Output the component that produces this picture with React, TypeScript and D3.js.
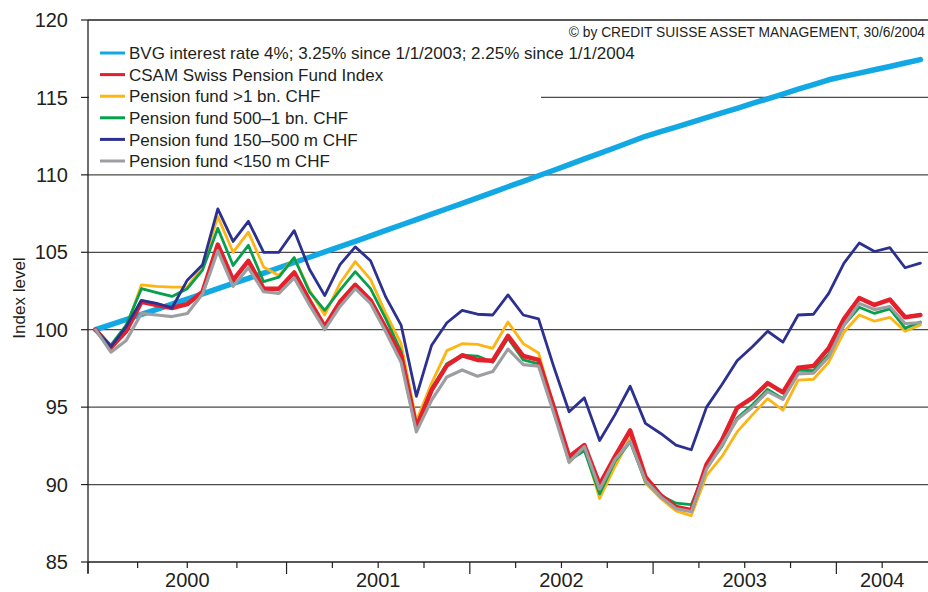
import React from "react";
import * as d3 from "d3";

// Monthly categories: Dec 1999 .. Jun 2004 (55 months)
const months: Date[] = d3.timeMonths(new Date(1999, 11, 1), new Date(2004, 6, 1));

const yearLabels = ["2000", "2001", "2002", "2003", "2004"];
const yTicks = [85, 90, 95, 100, 105, 110, 115, 120];

const bvg = [
  100.0, 100.33, 100.66, 100.99, 101.32, 101.65, 101.98, 102.31, 102.65, 102.99, 103.32, 103.66, 104.0,
  104.34, 104.68, 105.03, 105.37, 105.71, 106.06, 106.41, 106.76, 107.11, 107.46, 107.81, 108.16,
  108.51, 108.87, 109.23, 109.58, 109.94, 110.3, 110.66, 111.03, 111.39, 111.75, 112.12, 112.49,
  112.79, 113.09, 113.39, 113.69, 114.0, 114.3, 114.61, 114.91, 115.22, 115.53, 115.83, 116.14,
  116.36, 116.57, 116.79, 117.0, 117.22, 117.44,
];
const csam = [
  100.0, 98.85, 99.9, 101.8, 101.6, 101.4, 101.65, 102.45, 105.5, 103.2, 104.45, 102.65, 102.65,
  103.7, 101.9, 100.2, 101.8, 102.9, 101.9, 100.1, 98.35, 93.7, 96.1, 97.7, 98.35,
  98.05, 98.0, 99.6, 98.3, 98.05, 95.0, 91.8, 92.55, 90.0, 91.8, 93.5, 90.5,
  89.3, 88.55, 88.35, 91.3, 92.85, 94.95, 95.6, 96.55, 95.95, 97.55, 97.65, 98.8,
  100.7, 102.05, 101.6, 101.95, 100.8, 100.95,
];
const pfLarge = [
  100.0, 98.7, 100.1, 102.9, 102.8, 102.75, 102.75, 104.1, 107.3, 105.0, 106.3, 104.05, 103.5,
  104.65, 102.55, 100.95, 103.0, 104.4, 103.25, 101.05, 99.1, 94.1, 96.55, 98.65, 99.1,
  99.05, 98.8, 100.5, 99.1, 98.5, 95.0, 91.4, 92.45, 89.1, 91.15, 93.0, 90.1,
  89.1, 88.3, 88.0, 90.6, 91.8, 93.4, 94.5, 95.55, 94.8, 96.75, 96.8, 97.9,
  99.85, 100.95, 100.55, 100.8, 99.9, 100.3,
];
const pf500 = [
  100.0, 99.0, 100.3, 102.65, 102.4, 102.15, 102.65, 103.85, 106.55, 104.15, 105.45, 103.1, 103.4,
  104.65, 102.45, 101.25, 102.55, 103.75, 102.65, 100.7, 98.6, 93.8, 96.2, 97.8, 98.35,
  98.3, 97.9, 99.45, 98.05, 97.8, 94.8, 91.55, 92.2, 89.4, 91.5, 92.75, 90.2,
  89.3, 88.8, 88.7, 91.1, 92.45, 94.3, 95.15, 96.15, 95.55, 97.4, 97.35, 98.4,
  100.3, 101.45, 101.05, 101.35, 100.1, 100.5,
];
const pf150 = [
  100.0, 98.9, 100.2, 101.9, 101.7, 101.4, 103.2, 104.2, 107.8, 105.7, 107.0, 105.0, 105.0,
  106.4, 103.9, 102.2, 104.2, 105.35, 104.45, 102.1, 100.3, 95.7, 99.0, 100.45, 101.25,
  101.0, 100.95, 102.25, 100.95, 100.7, 97.6, 94.7, 95.6, 92.85, 94.5, 96.35, 93.95,
  93.3, 92.55, 92.25, 95.0, 96.45, 98.0, 98.9, 99.9, 99.2, 100.95, 101.0, 102.35,
  104.3, 105.6, 105.05, 105.3, 104.0, 104.3,
];
const pfSmall = [
  100.0, 98.55, 99.3, 101.05, 100.95, 100.85, 101.05, 102.3, 105.1, 102.8, 104.0, 102.45, 102.35,
  103.35, 101.6, 100.0, 101.5, 102.65, 101.7, 99.85, 97.9, 93.4, 95.45, 96.95, 97.4,
  97.0, 97.3, 98.75, 97.75, 97.65, 94.6, 91.45, 92.45, 89.7, 91.6, 92.8, 90.25,
  89.2, 88.45, 88.25, 91.0, 92.55, 94.2, 95.0, 96.0, 95.5, 97.15, 97.2, 98.25,
  100.3, 101.7, 101.3, 101.5, 100.4, 100.45,
];

const seriesNames = [
  "BVG interest rate 4%; 3.25% since 1/1/2003; 2.25% since 1/1/2004",
  "CSAM Swiss Pension Fund Index",
  "Pension fund >1 bn. CHF",
  "Pension fund 500–1 bn. CHF",
  "Pension fund 150–500 m CHF",
  "Pension fund <150 m CHF",
];
const seriesValues = [bvg, csam, pfLarge, pf500, pf150, pfSmall];
const seriesColors = ["#12a8e3", "#e3202b", "#fdb515", "#06a04c", "#2c3190", "#9c9ea1"];
const seriesWidths = [5.5, 4.5, 2.8, 2.8, 2.8, 3.2];
// drawing order (bottom -> top)
const drawOrder = [0, 2, 3, 1, 4, 5];

const W = 928;
const H = 592;
const left = 88;
const right = 928;
const top = 20;
const bottom = 562;
const font = "'Liberation Sans', Arial, Helvetica, sans-serif";
const textColor = "#231f20";

export default function App() {
  const keys = months.map((m) => d3.timeFormat("%Y-%m")(m));
  const x = d3.scaleBand<string>().domain(keys).range([left, right]).paddingInner(0).paddingOuter(0);
  const step = x.step();
  const bw = x.bandwidth();
  const y = d3.scaleLinear().domain([85, 120]).range([bottom, top]);
  const cx = (i: number) => (x(keys[i]) as number) + bw / 2;
  const edge = (k: number) => left + k * step;

  // year segments: 2000 includes the Dec 1999 start value
  const years = yearLabels.map((lab) => +lab);
  const segStart = years.map((yr, j) =>
    j === 0 ? 0 : months.findIndex((m) => m.getFullYear() === yr)
  );
  const segEnd = segStart.map((s, j) => (j < segStart.length - 1 ? segStart[j + 1] : months.length));

  const ticks: { pos: number; major: boolean }[] = [];
  segStart.forEach((s, j) => {
    const e = segEnd[j];
    const full = j < segStart.length - 1 ? (e - s) / 4 : 3;
    for (let k = 0; s + k * full < e - 0.01; k++) {
      ticks.push({ pos: edge(s + k * full), major: k === 0 });
    }
  });

  const line = d3
    .line<number>()
    .x((_, i) => cx(i))
    .y((d) => y(d));

  const legendY0 = 53;
  const legendDy = 21.6;

  return (
    <svg
      width={W}
      height={H}
      style={{ position: "absolute", left: 0, top: 0, display: "block", background: "#fff" }}
      fontFamily={font}
    >
      <rect x={0} y={0} width={W} height={H} fill="#fff" />
      {/* gridlines */}
      {yTicks
        .filter((t) => t > 85 && t < 120)
        .map((t) => (
          <line key={t} x1={left} x2={right} y1={y(t)} y2={y(t)} stroke="#4a4a4a" strokeWidth={1.2} />
        ))}
      {/* legend background */}
      <rect x={left + 1} y={28} width={452} height={142} fill="#fff" />
      {/* top border */}
      <line x1={left} x2={right} y1={y(120)} y2={y(120)} stroke="#231f20" strokeWidth={1.6} />
      {/* series */}
      {drawOrder.map((si) => (
        <path
          key={si}
          d={line(seriesValues[si]) as string}
          fill="none"
          stroke={seriesColors[si]}
          strokeWidth={seriesWidths[si]}
          strokeLinejoin="round"
          strokeLinecap="round"
        />
      ))}
      {/* axes */}
      <line x1={left} x2={left} y1={top} y2={bottom + 11} stroke="#231f20" strokeWidth={1.3} />
      <line x1={left} x2={right} y1={bottom} y2={bottom} stroke="#231f20" strokeWidth={1.3} />
      {yTicks.map((t) => (
        <g key={t}>
          <line x1={left - 7} x2={left} y1={y(t)} y2={y(t)} stroke="#231f20" strokeWidth={1.2} />
          <text x={68} y={y(t)} dy="0.36em" textAnchor="end" fontSize={20} fill={textColor}>
            {t}
          </text>
        </g>
      ))}
      {ticks.map((t, i) => (
        <line
          key={i}
          x1={t.pos}
          x2={t.pos}
          y1={bottom}
          y2={bottom + (t.major ? 12 : 6)}
          stroke="#231f20"
          strokeWidth={1.2}
        />
      ))}
      {yearLabels.map((lab, j) => (
        <text
          key={lab}
          x={(edge(segStart[j]) + edge(segEnd[j])) / 2}
          y={587}
          textAnchor="middle"
          fontSize={20}
          fill={textColor}
        >
          {lab}
        </text>
      ))}
      {/* y title */}
      <text transform={`translate(25, 298) rotate(-90)`} textAnchor="middle" fontSize={17} fill={textColor}>
        Index level
      </text>
      {/* copyright */}
      <text x={925} y={37} textAnchor="end" fontSize={13.8} fill={textColor}>
        © by CREDIT SUISSE ASSET MANAGEMENT, 30/6/2004
      </text>
      {/* legend */}
      {seriesNames.map((name, i) => (
        <g key={name}>
          <line
            x1={100}
            x2={125}
            y1={legendY0 + i * legendDy}
            y2={legendY0 + i * legendDy}
            stroke={seriesColors[i]}
            strokeWidth={3}
          />
          <text x={129} y={legendY0 + i * legendDy} dy="0.36em" fontSize={17} fill={textColor}>
            {name}
          </text>
        </g>
      ))}
    </svg>
  );
}
